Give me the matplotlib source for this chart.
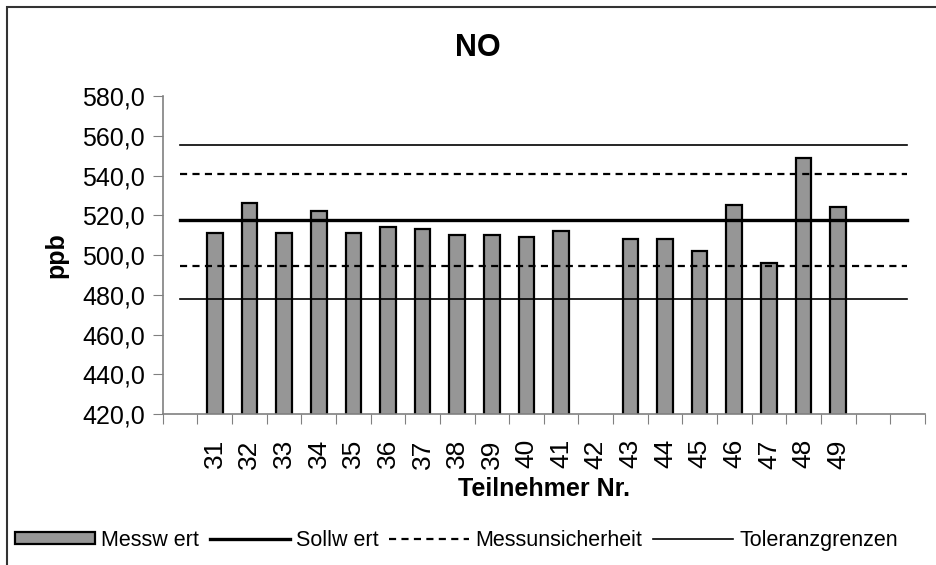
import numpy as np
import matplotlib.pyplot as plt
from matplotlib.patches import Rectangle

plt.rcParams['font.family'] = ['Liberation Sans', 'DejaVu Sans']

# categories (first and last two slots are empty in the original)
teilnehmer = ['', '31', '32', '33', '34', '35', '36', '37', '38', '39', '40',
              '41', '42', '43', '44', '45', '46', '47', '48', '49', '', '']
messwert = [np.nan, 511, 526, 511, 522, 511, 514, 513, 510, 510, 509,
            512, np.nan, 508, 508, 502, 525, 496, 549, 524, np.nan, np.nan]
sollwert = 517.5
mu_unten, mu_oben = 494.5, 540.8
tol_unten, tol_oben = 478.0, 555.5

x = np.arange(len(teilnehmer))

fig = plt.figure(figsize=(9.36, 5.65), dpi=100)
ax = fig.add_axes([0.174, 0.267, 0.814, 0.563])

h_bar = ax.bar(x, messwert, width=0.45, color='#969696',
               edgecolor='black', linewidth=1.6, label='Messw ert', zorder=2)
h_soll, = ax.plot(x, [sollwert] * len(x), color='black', lw=2.4, label='Sollw ert', zorder=3)
h_mu, = ax.plot(x, [mu_oben] * len(x), color='black', lw=1.6, ls=(0, (3.2, 2.4)),
                label='Messunsicherheit', zorder=3)
ax.plot(x, [mu_unten] * len(x), color='black', lw=1.6, ls=(0, (3.2, 2.4)), zorder=3)
h_tol, = ax.plot(x, [tol_oben] * len(x), color='black', lw=1.2, label='Toleranzgrenzen', zorder=3)
ax.plot(x, [tol_unten] * len(x), color='black', lw=1.2, zorder=3)

ax.set_ylim(420, 580)
ax.set_xlim(-0.5, len(x) - 0.5)
ax.set_yticks(np.arange(420, 581, 20))
ax.set_yticklabels(['{:.1f}'.format(v).replace('.', ',') for v in np.arange(420, 581, 20)],
                   fontsize=18)

# ticks between categories, labels at centres
ax.set_xticks(np.arange(-0.5, len(x), 1.0))
ax.set_xticklabels([])
ax.set_xticks(x, minor=True)
ax.set_xticklabels(teilnehmer, minor=True, rotation=90, fontsize=19)
ax.tick_params(axis='x', which='minor', length=0, pad=18)
ax.tick_params(axis='x', which='major', length=7, color='#808080', direction='out')
ax.tick_params(axis='y', length=7, color='#808080', direction='out', pad=6)

for s in ['top', 'right']:
    ax.spines[s].set_visible(False)
for s in ['left', 'bottom']:
    ax.spines[s].set_color('#808080')
    ax.spines[s].set_linewidth(1.2)

ax.set_ylabel('ppb', fontsize=18, fontweight='bold', labelpad=10)
ax.set_xlabel('Teilnehmer Nr.', fontsize=18, fontweight='bold', labelpad=6)
fig.text(0.511, 0.915, 'NO', ha='center', va='center', fontsize=22, fontweight='bold')

leg = fig.legend(handles=[h_bar, h_soll, h_mu, h_tol],
                 loc='center left', bbox_to_anchor=(0.007, 0.044), ncol=4,
                 frameon=False, fontsize=15.5, handlelength=3.7, handleheight=0.5,
                 handletextpad=0.3, columnspacing=0.5, borderaxespad=0)

# outer chart frame (runs off the right and bottom edge)
fig.patches.append(Rectangle((0.0075, -0.1), 1.2, 1.1 - 0.012, transform=fig.transFigure,
                             fill=False, edgecolor='#333333', linewidth=1.5))

fig.savefig('out.png', dpi=100)
